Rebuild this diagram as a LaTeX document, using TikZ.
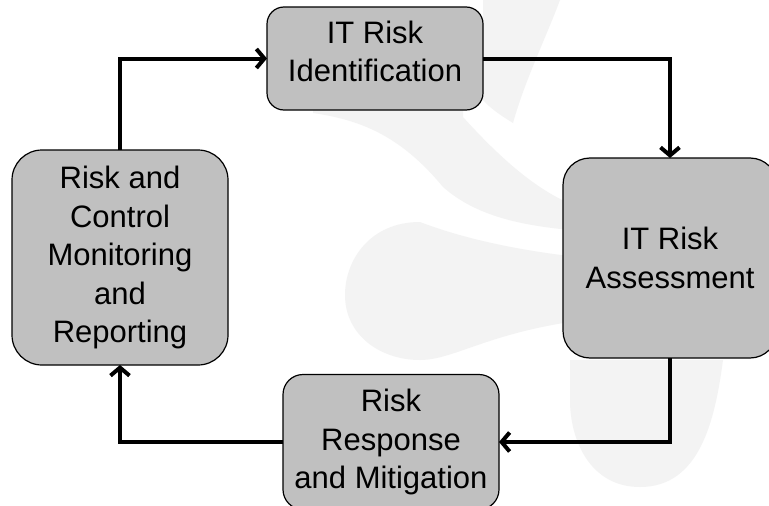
\documentclass[tikz,border=0pt]{standalone}
\usepackage{fontspec}
\setmainfont{Liberation Sans}
\usetikzlibrary{arrows.meta}
\definecolor{boxfill}{HTML}{C0C0C0}
\definecolor{logogray}{HTML}{F3F3F3}
\begin{document}
\begin{tikzpicture}[x=1pt,y=-1pt,
  box/.style={draw=black, line width=1.2pt, fill=boxfill, inner sep=0pt, outer sep=0pt,
    align=center, font=\fontsize{31}{38.5}\selectfont},
  conn/.style={line width=4pt, -{Straight Barb[length=8pt,width=19pt,line width=4pt]}},
  logoshape/.style={fill=logogray, draw=none}]
\useasboundingbox (0,0) rectangle (769,506);
\clip (0,0) rectangle (769,506);
\fill[white] (0,0) rectangle (769,506);

% faint logo in the background
\path[logoshape] (313,113) .. controls (360,120) and (400,135) .. (443,187)
  .. controls (475,215) and (520,228) .. (600,232) -- (600,213)
  .. controls (560,205) and (520,180) .. (463,117) -- (463,100) -- (313,100) -- cycle;
\path[logoshape] (483,0) -- (560,0) .. controls (545,40) and (525,80) .. (513,123)
  .. controls (500,115) and (490,108) .. (483,100) -- cycle;
\path[logoshape] (640,262) .. controls (560,258) and (480,245) .. (420,222)
  .. controls (370,222) and (345,260) .. (345,295)
  .. controls (345,335) and (380,360) .. (420,360)
  .. controls (460,360) and (500,322) .. (640,315) -- cycle;
\path[logoshape] (570,360) -- (723,360) .. controls (715,420) and (700,487) .. (640,487)
  .. controls (590,487) and (570,440) .. (570,400) -- cycle;

% process steps
\node[box, rounded corners=17pt, minimum width=216pt, minimum height=103pt, text depth=14pt]
  (T) at (375,58.5) {IT Risk\\Identification};
\node[box, rounded corners=27pt, minimum width=214pt, minimum height=200pt]
  (R) at (670,258) {IT Risk\\Assessment};
\node[box, rounded corners=20pt, minimum width=216pt, minimum height=135pt]
  (B) at (391,442) {Risk\\Response\\and Mitigation};
\node[box, rounded corners=30pt, minimum width=216pt, minimum height=215pt]
  (L) at (120,257.5) {Risk and\\Control\\Monitoring\\and\\Reporting};

% cycle connectors
\draw[conn] (L.north) |- (T.west);
\draw[conn] (T.east) -| (R.north);
\draw[conn] (R.south) |- (B.east);
\draw[conn] (B.west) -| (L.south);
\end{tikzpicture}
\end{document}
